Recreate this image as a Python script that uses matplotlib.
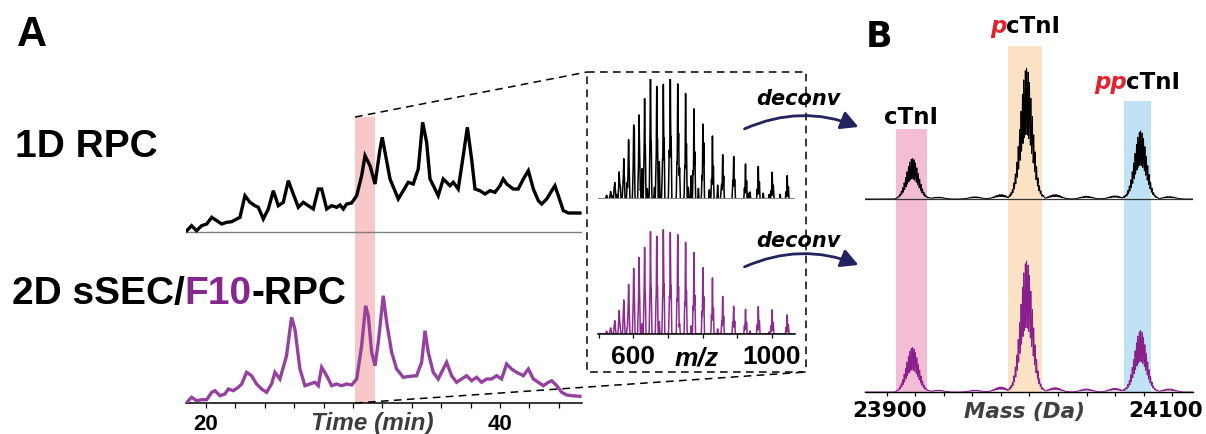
import numpy as np
import matplotlib
matplotlib.use("Agg")
import matplotlib.pyplot as plt
from matplotlib.patches import Rectangle, FancyArrowPatch
from matplotlib.lines import Line2D
from matplotlib.transforms import ScaledTranslation

plt.rcParams['font.family'] = ['Liberation Sans', 'DejaVu Sans']

W, H = 1206, 435

# ---------------- chromatograms (time in min, UV intensity in a.u.) ----------------
rpc1d_time = [18.69, 19.02, 19.36, 19.70, 20.05, 20.39, 20.73, 21.07, 21.41, 21.75,
              22.09, 22.31, 22.65, 22.99, 23.33, 23.56, 23.90, 24.24, 24.58, 24.92,
              25.26, 25.60, 25.94, 26.28, 26.62, 26.96, 27.30, 27.64, 27.87, 28.21,
              28.55, 28.89, 29.12, 29.34, 29.57, 29.91, 30.25, 30.59, 30.82, 31.16,
              31.50, 31.84, 31.99, 32.18, 32.52, 33.08, 33.42, 33.76, 34.10, 34.44,
              34.74, 35.01, 35.24, 35.58, 35.80, 36.14, 36.37, 36.60, 36.82, 37.16,
              37.50, 37.78, 38.07, 38.30, 38.64, 38.98, 39.32, 39.66, 40.00, 40.22,
              40.46, 40.90, 41.24, 41.59, 41.93, 42.27, 42.61, 42.84, 43.18, 43.52,
              43.74, 43.97, 44.31, 44.65, 45.44]
rpc1d_int = [1.3, 6.3, 1.3, 6.3, 8.0, 14.7, 11.3, 8.0, 9.7, 10.3,
             13.0, 14.7, 36.3, 29.7, 26.3, 24.7, 13.0, 23.0, 41.3, 26.3,
             29.7, 51.3, 38.0, 24.7, 29.7, 26.3, 23.0, 43.0, 43.0, 23.0,
             26.3, 24.7, 27.0, 23.0, 28.0, 29.0, 36.3, 56.3, 76.3, 66.3,
             48.0, 83.0, 94.7, 79.7, 53.0, 33.0, 41.3, 49.7, 48.0, 63.0,
             109.7, 89.7, 53.0, 43.0, 36.3, 53.0, 49.7, 46.3, 49.7, 43.0,
             76.3, 104.7, 73.0, 43.0, 41.3, 38.0, 41.3, 39.7, 46.3, 53.0,
             48.0, 43.0, 43.0, 53.0, 61.3, 43.0, 31.3, 28.0, 33.0, 41.3,
             46.3, 36.3, 21.3, 19.0, 19.0]

rpc2d_time = [18.69, 19.02, 19.36, 19.70, 20.05, 20.39, 20.61, 20.95, 21.29, 21.52,
              21.86, 22.20, 22.43, 22.76, 23.10, 23.44, 23.78, 24.12, 24.46, 24.69,
              25.03, 25.48, 25.82, 26.05, 26.39, 26.73, 27.07, 27.41, 27.64, 27.87,
              28.21, 28.55, 28.89, 29.23, 29.57, 29.91, 30.25, 30.59, 30.86, 31.04,
              31.27, 31.50, 31.72, 32.06, 32.29, 32.63, 32.97, 33.42, 33.87, 34.33,
              34.67, 34.90, 35.12, 35.46, 35.80, 36.14, 36.37, 36.71, 37.05, 37.39,
              37.73, 38.07, 38.41, 38.75, 39.09, 39.43, 39.77, 40.11, 40.45, 40.79,
              41.13, 41.59, 41.93, 42.27, 42.61, 42.95, 43.29, 43.52, 43.86, 44.20,
              44.54, 44.88, 45.44]
rpc2d_int = [0.5, 5.7, 2.3, 3.3, 3.3, 10.7, 12.3, 7.3, 9.0, 14.0,
             12.3, 15.7, 19.0, 30.7, 27.3, 19.0, 14.0, 10.7, 19.0, 30.7,
             24.0, 47.3, 85.7, 74.0, 34.0, 17.3, 19.0, 20.7, 17.3, 35.7,
             27.3, 17.3, 19.0, 17.3, 19.0, 18.0, 24.0, 57.3, 97.3, 87.3,
             50.7, 37.3, 60.7, 107.3, 80.7, 50.7, 34.0, 25.7, 26.7, 27.3,
             40.7, 72.3, 50.7, 30.7, 24.0, 34.0, 40.7, 27.3, 20.7, 24.0,
             27.3, 22.3, 25.7, 20.7, 24.0, 24.0, 27.3, 24.0, 39.0, 34.0,
             30.7, 27.3, 34.0, 24.0, 20.7, 17.3, 20.7, 22.3, 17.3, 10.7,
             8.0, 7.3, 6.7]

time_ticks = [20, 22, 24, 26, 28, 30, 32, 34, 36, 38, 40, 42, 44]
time_labels = ['20', '', '', '', '', '', '', '', '', '', '40', '', '']
fraction_window = (30.14, 31.50)

# ---------------- MS1 spectra of the collected fraction ----------------
charge_states = [23, 24, 25, 26, 27, 28, 29, 30, 31, 32, 33, 34,
                 35, 36, 37, 38, 39, 40, 41, 42, 43, 44, 45, 46]
ms_1d_heights = [20, 23, 28, 30, 32, 38, 54, 64, 77, 90, 98, 100,
                 97, 95, 90, 84, 70, 59, 45, 33, 22, 13, 6, 3]
ms_2d_heights = [18.6, 23.5, 26.7, 24.0, 26.7, 36.5, 54.4, 64.2, 78.8, 88.6, 95.8, 97.7,
                 100, 93.5, 88.6, 82.1, 72.3, 60.9, 46.3, 31.6, 21.8, 12.0, 5.5, 2.6]
coelute_mass = 16850
coelute_charges = [17, 18, 19, 20, 21, 22, 23, 24, 25, 26, 27, 28, 29, 30, 31]
coelute_1d = [4, 6, 9, 12, 15, 20, 26, 30, 32, 30, 26, 20, 14, 9, 5]
coelute_2d = [2, 3, 4, 5, 6, 8, 10, 11, 12, 11, 10, 8, 6, 4, 3]
trace_mass = 20460
trace_charges = [20, 21, 22, 23, 24, 25, 26, 27, 28, 29, 30, 31, 32, 33, 34, 35, 36, 37, 38]
trace_1d = [4, 5, 5, 6, 7, 8, 9, 10, 11, 11, 11, 10, 9, 8, 7, 6, 5, 4, 3]
mz_ticks = [500, 600, 700, 800, 900, 1000]
mz_labels = ['', '600', '', '', '', '1000']

# ---------------- deconvoluted spectra ----------------
proteoforms = ['cTnI', 'pcTnI', 'ppcTnI']
proteoform_mass = [23918, 23998, 24078]
decon_1d = [31, 100, 52]
decon_2d = [34, 100, 47]
isotope_offset = list(range(-12, 13))
isotope_profile = [0.02, 0.04, 0.07, 0.12, 0.19, 0.28, 0.40, 0.53, 0.67, 0.80, 0.91, 0.98,
                   1.00, 0.97, 0.89, 0.77, 0.63, 0.49, 0.36, 0.25, 0.16, 0.10, 0.06, 0.03, 0.02]
minor_mass = [23936, 23962, 23980, 24018, 24040, 24060, 24098]
minor_1d = [1.5, 1.8, 3.5, 3.5, 2.2, 2.5, 2.0]
minor_2d = [1.5, 1.5, 4.0, 3.5, 2.5, 3.0, 2.5]
mass_ticks = list(range(23900, 24101, 20))
mass_labels = ['23900'] + [''] * 9 + ['24100']

# ---------------- colours ----------------
PURPLE_TRACE = '#94419F'
PURPLE_TEXT = '#85278C'
PURPLE_MS = '#8E2B91'
PURPLE_DECON = '#8A1E8C'
PINK_A = '#F8C7C7'
HILITE = ['#F2BDD5', '#FCE3C5', '#BFE2F4']
NAVY = '#22235F'
RED = '#E1232B'
GREY_LABEL = '#3C3C3C'
PROTON = 1.00728

# ---------------- layout (figure pixels: left, top, right, bottom) ----------------
CHROM = (186, 118, 582, 404)
MS_TOP = (598, 80, 795, 200)
MS_BOT = (598, 229, 795, 335)
DECON = (865, 47, 1193, 393)
BOX = (587, 73, 806, 373)

fig = plt.figure(figsize=(W / 100, H / 100), dpi=100)


def px_axes(box):
    l, t, r, b = box
    ax = fig.add_axes([l / W, 1 - b / H, (r - l) / W, (b - t) / H])
    ax.patch.set_visible(False)
    return ax


def bottom_axis_only(ax, lw):
    for s in ['top', 'right', 'left']:
        ax.spines[s].set_visible(False)
    ax.spines['bottom'].set_linewidth(lw)
    ax.set_yticks([])


# ---------------- panel A: chromatograms ----------------
axc = px_axes(CHROM)
chrom_h = CHROM[3] - CHROM[1]
top_offset = CHROM[3] - 233
axc.set_xlim(18.64, 45.58)
axc.set_ylim(0, chrom_h)
axc.axvspan(*fraction_window, color=PINK_A, lw=0, zorder=0)
axc.axhline(top_offset, color='#7f7f7f', lw=1.0, zorder=1)
axc.plot(rpc1d_time, np.array(rpc1d_int) + top_offset, color='black', lw=2.4,
         solid_joinstyle='miter', zorder=3)
axc.plot(rpc2d_time, rpc2d_int, color=PURPLE_TRACE, lw=2.4, solid_joinstyle='miter', zorder=3)
bottom_axis_only(axc, 1.1)
axc.set_xticks(time_ticks)
axc.set_xticklabels(time_labels, fontsize=16, fontweight='bold')
axc.tick_params(axis='x', direction='out', length=3.6, width=0.9, pad=3.5)

# ---------------- panel A: MS1 insets ----------------
mz = np.arange(498, 1067, 0.05)


def add_series(y, mass_da, charges, heights, width):
    for z, h in zip(charges, heights):
        c = (mass_da + z * PROTON) / z
        y += h * np.exp(-0.5 * ((mz - c) / width) ** 2)


def ms_trace(heights, rel, minor, extra=None):
    y = np.zeros_like(mz)
    rel = np.asarray(rel, float) / rel[1]
    for M, r in zip(proteoform_mass, rel):
        add_series(y, M, charge_states, np.asarray(heights) * r, 0.8)
    add_series(y, coelute_mass, coelute_charges, minor, 0.8)
    if extra is not None:
        add_series(y, trace_mass, trace_charges, extra, 0.8)
    return y


ax1 = px_axes(MS_TOP)
ax1.plot(mz, ms_trace(ms_1d_heights, decon_1d, coelute_1d, trace_1d), color='black', lw=1.1)
ax1.axhline(0, color='#8a8a8a', lw=1.4)
ax1.set_xlim(498, 1067)
ax1.set_ylim(0, 103)
ax1.axis('off')

ax2 = px_axes(MS_BOT)
ax2.plot(mz, ms_trace(ms_2d_heights, decon_2d, coelute_2d), color=PURPLE_MS, lw=1.1)
ax2.set_xlim(498, 1067)
ax2.set_ylim(0, 103)
bottom_axis_only(ax2, 1.1)
ax2.set_xticks(mz_ticks)
ax2.set_xticklabels(mz_labels, fontsize=19, fontweight='bold')
ax2.tick_params(axis='x', direction='out', length=3.0, width=0.9, pad=4.5)

# ---------------- panel B: deconvoluted spectra ----------------
mass = np.arange(23884, 24115, 0.05)


def isotope_cluster(y, centre, amp):
    for k, p in zip(isotope_offset, isotope_profile):
        y += amp * p * np.exp(-0.5 * ((mass - (centre + k)) / 0.3) ** 2)


def decon_trace(amps, minor):
    y = np.zeros_like(mass)
    for M, a in zip(proteoform_mass, amps):
        isotope_cluster(y, M, a)
    for m, h in zip(minor_mass, minor):
        isotope_cluster(y, m, h)
    return y


scale = 1.3  # pixels per relative-intensity unit
decon_h = (DECON[3] - DECON[1]) / scale
decon_top_offset = (DECON[3] - 200) / scale
axb = px_axes(DECON)
axb.set_xlim(23884.6, 24114.7)
axb.set_ylim(0, decon_h)
spans = [(23906, 23928, 130), (23985, 24009, 47), (24066, 24085, 102)]
for (x0, x1, top_px), col in zip(spans, HILITE):
    axb.axvspan(x0, x1, ymin=0, ymax=(DECON[3] - top_px) / (DECON[3] - DECON[1]),
                color=col, lw=0, zorder=0)
axb.axhline(decon_top_offset, color='#333333', lw=0.9, zorder=1)
axb.plot(mass, decon_trace(decon_1d, minor_1d) + decon_top_offset, color='black', lw=0.6, zorder=2)
axb.plot(mass, decon_trace(decon_2d, minor_2d), color=PURPLE_DECON, lw=0.6, zorder=2)
bottom_axis_only(axb, 1.0)
axb.set_xticks(mass_ticks)
axb.set_xticklabels(mass_labels, fontsize=15.5, fontweight='bold', family='DejaVu Sans')
axb.tick_params(axis='x', direction='out', length=3.2, width=0.9, pad=2.5)
last = axb.get_xticklabels()[-1]
last.set_transform(last.get_transform() + ScaledTranslation(-6 / 100, 0, fig.dpi_scale_trans))
first = axb.get_xticklabels()[0]
first.set_transform(first.get_transform() + ScaledTranslation(3 / 100, 0, fig.dpi_scale_trans))

# ---------------- overlay: labels, zoom lines, arrows ----------------
ov = fig.add_axes([0, 0, 1, 1], zorder=10)
ov.set_xlim(0, W)
ov.set_ylim(H, 0)
ov.axis('off')
ov.patch.set_visible(False)
renderer = fig.canvas.get_renderer()


def rich_text(x, y, pieces, ha='left', **kw):
    arts = [ov.text(0, y, s, va='baseline', ha='left', **{**kw, **st}) for s, st in pieces]
    widths = [a.get_window_extent(renderer).width for a in arts]
    x0 = x - sum(widths) / 2 if ha == 'center' else x
    for a, w in zip(arts, widths):
        a.set_x(x0)
        x0 += w


ov.text(17, 46, 'A', fontsize=30, fontweight='bold', va='baseline')
ov.text(866, 47, 'B', fontsize=25, fontweight='bold', family='DejaVu Sans', va='baseline')
ov.text(15, 157, '1D RPC', fontsize=28, fontweight='bold', va='baseline')
rich_text(12, 304, [('2D sSEC/', {}), ('F10', {'color': PURPLE_TEXT}), ('-RPC', {})],
          fontsize=28, fontweight='bold')

ov.text(372, 430, 'Time (min)', fontsize=17.5, fontweight='bold', style='italic',
        color=GREY_LABEL, ha='center', va='baseline')
ov.text(697, 366, 'm/z', fontsize=19, fontweight='bold', style='italic',
        ha='center', va='baseline')
ov.text(1025, 418, 'Mass (Da)', fontsize=15.5, fontweight='bold', style='italic',
        family='DejaVu Sans', color='#404040', ha='center', va='baseline')

# proteoform labels centred on their highlight bands
bfont = dict(fontsize=16.5, fontweight='bold', family='DejaVu Sans')
red = {'color': RED, 'style': 'italic'}
label_pieces = [[('cTnI', {})], [('p', red), ('cTnI', {})], [('pp', red), ('cTnI', {})]]
label_base = [124, 33, 89]
for (x0, x1, _), pieces, yb in zip(spans, label_pieces, label_base):
    xc = axb.transData.transform(((x0 + x1) / 2, 0))[0]
    rich_text(xc, yb, pieces, ha='center', **bfont)

# zoom connectors from the collected fraction to the MS1 box
x_left = axc.transData.transform((fraction_window[0], 0))[0]
dash = dict(color='black', lw=1.1, linestyle=(0, (5, 3.5)))
ov.add_line(Line2D([x_left, BOX[0]], [CHROM[1], BOX[1]], **dash))
ov.add_line(Line2D([x_left, BOX[2]], [CHROM[3], BOX[3]], **dash))
ov.add_patch(Rectangle((BOX[0], BOX[1]), BOX[2] - BOX[0], BOX[3] - BOX[1],
                       fill=False, **dash))

# deconvolution arrows
for y_txt, y0, y1 in [(105, 131, 129), (247, 269, 267)]:
    ov.text(798, y_txt, 'deconv', fontsize=15, fontweight='bold', style='italic',
            family='DejaVu Sans', ha='center', va='baseline')
    ov.add_patch(FancyArrowPatch((742, y0), (861, y1), connectionstyle='arc3,rad=-0.22',
                                 arrowstyle='-|>,head_length=0.75,head_width=0.4',
                                 mutation_scale=14, color=NAVY, lw=2.0))

fig.savefig('out.png', dpi=100)
